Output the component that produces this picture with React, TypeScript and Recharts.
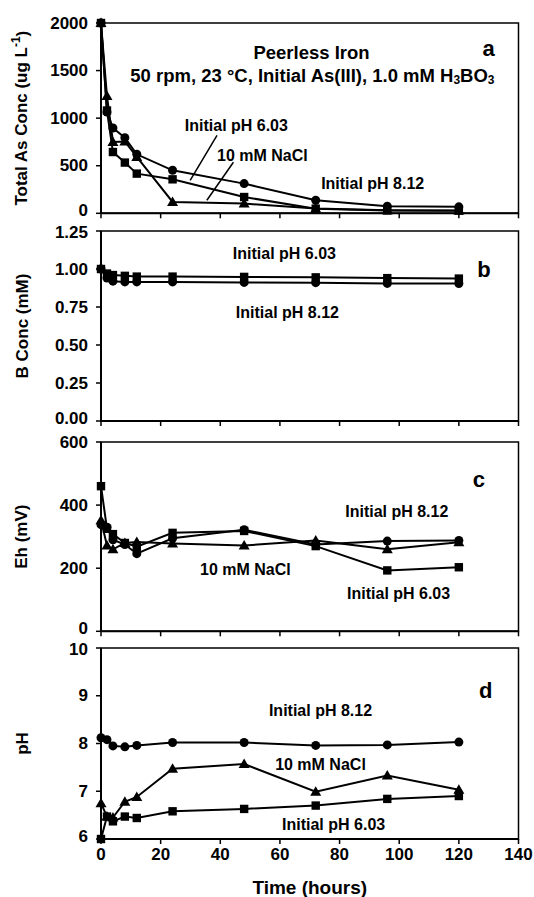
import React from 'react';
import {
  LineChart,
  Line,
  XAxis,
  YAxis,
  ReferenceArea,
  ReferenceDot,
  ReferenceLine,
} from 'recharts';

// ---------- data ----------
const times = [0, 2, 4, 8, 12, 24, 48, 72, 96, 120];
const xTicks = [0, 20, 40, 60, 80, 100, 120, 140];

// panel a: Total As (ug/L)
const asPH812 = [2000, 1065, 897, 795, 620, 452, 312, 137, 74, 68];
const asPH603 = [2000, 1080, 644, 533, 417, 357, 171, 49, 30, 28];
const asNaCl = [2000, 1233, 750, 755, 592, 119, 102, 50, 32, 30];
const asTicks = [0, 500, 1000, 1500, 2000];

// panel b: B conc (mM)
const bPH603 = [1.0, 0.97, 0.96, 0.955, 0.95, 0.95, 0.948, 0.945, 0.94, 0.937];
const bPH812 = [1.0, 0.94, 0.92, 0.915, 0.915, 0.915, 0.912, 0.91, 0.905, 0.904];
const bTicks = [0, 0.25, 0.5, 0.75, 1.0, 1.25];

// panel c: Eh (mV)
const ehPH603 = [460, 325, 308, 280, 268, 312, 318, 270, 193, 203];
const ehPH812 = [338, 330, 290, 275, 246, 295, 322, 275, 286, 288];
const ehNaCl = [352, 272, 260, 280, 283, 278, 272, 288, 260, 282];
const ehTicks = [0, 200, 400, 600];

// panel d: pH
const pHPH812 = [8.12, 8.08, 7.95, 7.93, 7.96, 8.02, 8.02, 7.96, 7.97, 8.03];
const pHNaCl = [6.75, 6.47, 6.45, 6.78, 6.88, 7.47, 7.57, 6.99, 7.33, 7.03];
const pHPH603 = [6.0, 6.47, 6.37, 6.47, 6.44, 6.58, 6.63, 6.7, 6.84, 6.9];
const pHTicks = [6, 7, 8, 9, 10];

const dataA = times.map((t, i) => ({ t, c: asPH812[i], s: asPH603[i], tr: asNaCl[i] }));
const dataB = times.map((t, i) => ({ t, s: bPH603[i], c: bPH812[i] }));
const dataC = times.map((t, i) => ({ t, s: ehPH603[i], c: ehPH812[i], tr: ehNaCl[i] }));
const dataD = times.map((t, i) => ({ t, c: pHPH812[i], tr: pHNaCl[i], s: pHPH603[i] }));

// ---------- styling ----------
const FONT = '"Liberation Sans", Arial, Helvetica, sans-serif';
const xTickStyle = { fontSize: 17, fontWeight: 'bold', fill: '#000', fontFamily: FONT };
const W = 534;
const YW = 101;
const MR = 15.5;

type Shape = 'circle' | 'square' | 'triangle';

const makeDot = (shape: Shape) => (p: any) => {
  const { cx, cy, index } = p;
  if (cx == null || cy == null) return <g key={`${shape}-${index}`} />;
  if (shape === 'circle') {
    return <circle key={`${shape}-${index}`} cx={cx} cy={cy} r={4.5} fill="#000" />;
  }
  if (shape === 'square') {
    return <rect key={`${shape}-${index}`} x={cx - 4.2} y={cy - 4.2} width={8.4} height={8.4} fill="#000" />;
  }
  const h = 5;
  return (
    <polygon
      key={`${shape}-${index}`}
      points={`${cx},${cy - h - 0.5} ${cx - h - 0.5},${cy + h - 1} ${cx + h + 0.5},${cy + h - 1}`}
      fill="#000"
    />
  );
};

const series = (key: string, shape: Shape) => (
  <Line
    key={key}
    type="linear"
    dataKey={key}
    stroke="#000"
    strokeWidth={2}
    dot={makeDot(shape)}
    activeDot={false}
    isAnimationActive={false}
  />
);

const yLabel = (main: string, sup?: string, tail?: string) => ({
  content: (props: any) => {
    const vb = props.viewBox || { x: 0, y: 0, width: YW, height: 190 };
    const x = vb.x + 22;
    const y = vb.y + vb.height / 2;
    return (
      <text
        x={x}
        y={y}
        transform={`rotate(-90, ${x}, ${y})`}
        textAnchor="middle"
        dominantBaseline="central"
        fontFamily={FONT}
        fontSize={17}
        fontWeight="bold"
        fill="#000"
      >
        {main}
        {sup ? (
          <tspan dy={-6} fontSize={12}>
            {sup}
          </tspan>
        ) : null}
        {tail ? <tspan dy={sup ? 6 : 0}>{tail}</tspan> : null}
      </text>
    );
  },
});

// y tick: bottom label nudged up, top label nudged down so stacked panels don't collide
const makeYTick = (ticks: number[], fmt?: (v: number) => string) => (props: any) => {
  const { x, y, payload, index } = props;
  const v = payload?.value;
  const lo = Math.min(...ticks);
  const hi = Math.max(...ticks);
  const shift = v === lo ? -2.5 : v === hi ? 1 : 0;
  return (
    <text
      key={`yt-${index}-${v}`}
      x={x}
      y={y + shift}
      textAnchor="end"
      dominantBaseline="central"
      fontFamily={FONT}
      fontSize={17}
      fontWeight="bold"
      fill="#000"
    >
      {fmt ? fmt(v) : String(v)}
    </text>
  );
};

const note = (x: number, y: number, text: string, size = 16, key?: string) => (
  <ReferenceDot
    key={key || `${text}-${x}-${y}`}
    x={x}
    y={y}
    r={1}
    fill="none"
    stroke="none"
    label={{
      content: (props: any) => {
        const vb = props.viewBox || { x: 0, y: 0, width: 0, height: 0 };
        return (
          <text
            x={vb.x + vb.width / 2}
            y={vb.y + vb.height / 2}
            textAnchor="middle"
            dominantBaseline="central"
            fontFamily={FONT}
            fontSize={size}
            fontWeight="bold"
            fill="#000"
          >
            {text}
          </text>
        );
      },
    }}
  />
);

const conditionNote = (x: number, y: number) => (
  <ReferenceDot
    key="cond"
    x={x}
    y={y}
    r={1}
    fill="none"
    stroke="none"
    label={{
      content: (props: any) => {
        const vb = props.viewBox || { x: 0, y: 0, width: 0, height: 0 };
        return (
          <text
            x={vb.x + vb.width / 2}
            y={vb.y + vb.height / 2}
            textAnchor="middle"
            dominantBaseline="central"
            fontFamily={FONT}
            fontSize={18.5}
            fontWeight="bold"
            fill="#000"
          >
            50 rpm, 23 °C, Initial As(III), 1.0 mM H
            <tspan dy={5} fontSize={12}>
              3
            </tspan>
            <tspan dy={-5}>BO</tspan>
            <tspan dy={5} fontSize={12}>
              3
            </tspan>
          </text>
        );
      },
    }}
  />
);

const frame = (y1: number, y2: number) => (
  <ReferenceArea x1={0} x2={140} y1={y1} y2={y2} fill="none" stroke="#000" strokeWidth={1.5} ifOverflow="visible" />
);

const xAxisHidden = (
  <XAxis
    dataKey="t"
    type="number"
    domain={[0, 140]}
    ticks={xTicks}
    tickFormatter={() => ''}
    height={10}
    tickSize={5}
    axisLine={{ stroke: '#000', strokeWidth: 2 }}
    tickLine={{ stroke: '#000', strokeWidth: 1.5 }}
  />
);

const yAxis = (domain: number[], ticks: number[], label: any, fmt?: (v: number) => string) => (
  <YAxis
    type="number"
    domain={domain}
    ticks={ticks}
    interval={0}
    width={YW}
    tickSize={5}
    tickMargin={8}
    tick={makeYTick(ticks, fmt)}
    axisLine={{ stroke: '#000', strokeWidth: 2 }}
    tickLine={{ stroke: '#000', strokeWidth: 1.5 }}
    label={label}
  />
);

const box = (top: number): React.CSSProperties => ({ position: 'absolute', left: 0, top });

export default function App() {
  return (
    <div style={{ position: 'absolute', left: 0, top: 0, width: W, height: 897, background: '#fff' }}>
      {/* Panel a */}
      <div style={box(12.7)}>
        <LineChart width={W} height={210.3} data={dataA} margin={{ top: 10, right: MR, bottom: 0, left: 0 }}>
          {xAxisHidden}
          {yAxis([0, 2000], asTicks, yLabel('Total As Conc (ug L', '-1', ')'))}
          {frame(0, 2000)}
          <ReferenceLine segment={[{ x: 38.9, y: 820 }, { x: 29.9, y: 347 }]} stroke="#000" strokeWidth={1.5} />
          <ReferenceLine segment={[{ x: 44.4, y: 536 }, { x: 35.5, y: 137 }]} stroke="#000" strokeWidth={1.5} />
          {series('tr', 'triangle')}
          {series('s', 'square')}
          {series('c', 'circle')}
          {note(70.6, 1692, 'Peerless Iron', 18.5)}
          {conditionNote(70.9, 1450)}
          {note(130, 1734, 'a', 22)}
          {note(45.4, 925, 'Initial pH 6.03')}
          {note(54.1, 610, '10 mM NaCl')}
          {note(91.1, 315, 'Initial pH 8.12')}
        </LineChart>
      </div>

      {/* Panel b */}
      <div style={box(220.7)}>
        <LineChart width={W} height={210} data={dataB} margin={{ top: 10, right: MR, bottom: 0, left: 0 }}>
          {xAxisHidden}
          {yAxis([0, 1.25], bTicks, yLabel('B Conc (mM)'), (v: number) => v.toFixed(2))}
          {frame(0, 1.25)}
          {series('s', 'square')}
          {series('c', 'circle')}
          {note(61.5, 1.103, 'Initial pH 6.03')}
          {note(62.5, 0.715, 'Initial pH 8.12')}
          {note(128.4, 0.998, 'b', 22)}
        </LineChart>
      </div>

      {/* Panel c */}
      <div style={box(431.7)}>
        <LineChart width={W} height={209.3} data={dataC} margin={{ top: 10, right: MR, bottom: 0, left: 0 }}>
          {xAxisHidden}
          {yAxis([0, 600], ehTicks, yLabel('Eh (mV)'))}
          {frame(0, 600)}
          {series('tr', 'triangle')}
          {series('s', 'square')}
          {series('c', 'circle')}
          {note(99.2, 380, 'Initial pH 8.12')}
          {note(99.8, 120, 'Initial pH 6.03')}
          {note(48.4, 197, '10 mM NaCl')}
          {note(126.7, 482, 'c', 22)}
        </LineChart>
      </div>

      {/* Panel d */}
      <div style={box(638)}>
        <LineChart width={W} height={259} data={dataD} margin={{ top: 10, right: MR, bottom: 0, left: 0 }}>
          <XAxis
            dataKey="t"
            type="number"
            domain={[0, 140]}
            ticks={xTicks}
            interval={0}
            height={58}
            tickSize={5}
            tickMargin={4}
            tick={xTickStyle}
            axisLine={{ stroke: '#000', strokeWidth: 2 }}
            tickLine={{ stroke: '#000', strokeWidth: 1.5 }}
            label={{
              value: 'Time (hours)',
              position: 'insideBottom',
              offset: 3,
              fontSize: 19,
              fontWeight: 'bold',
              fill: '#000',
              fontFamily: FONT,
            }}
          />
          {yAxis([6, 10], pHTicks, yLabel('pH'))}
          {frame(6, 10)}
          {series('tr', 'triangle')}
          {series('s', 'square')}
          {series('c', 'circle')}
          {note(73.6, 8.7, 'Initial pH 8.12')}
          {note(73.6, 7.55, '10 mM NaCl')}
          {note(78, 6.31, 'Initial pH 6.03')}
          {note(129, 9.12, 'd', 22)}
        </LineChart>
      </div>
    </div>
  );
}
